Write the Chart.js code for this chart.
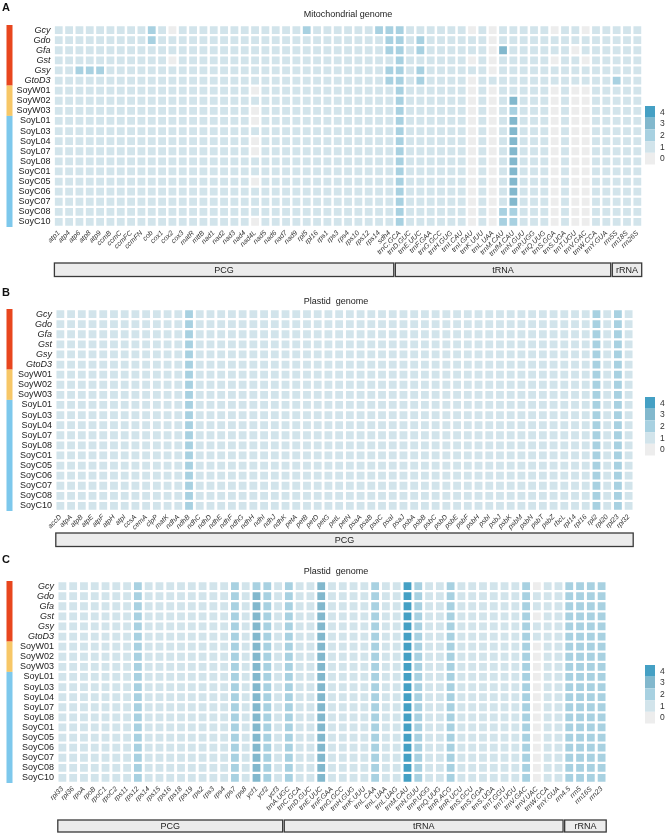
<!DOCTYPE html>
<html>
<head>
<meta charset="utf-8">
<script src="https://cdn.jsdelivr.net/npm/chart.js@4.4.0/dist/chart.umd.min.js"></script>
<style>
  html, body { margin: 0; padding: 0; background: #fff; }
  #wrap { position: relative; width: 669px; height: 833px; overflow: hidden; }
  canvas { position: absolute; left: 0; }
</style>
</head>
<body>
<div id="wrap">
  <canvas id="panelA" width="669" height="285" style="top:0px"></canvas>
  <canvas id="panelB" width="669" height="265" style="top:285px"></canvas>
  <canvas id="panelC" width="669" height="283" style="top:550px"></canvas>
</div>
<script>
// ---- data ----
var SAMPLES = ['Gcy', 'Gdo', 'Gfa', 'Gst', 'Gsy', 'GtoD3', 'SoyW01', 'SoyW02', 'SoyW03',
  'SoyL01', 'SoyL03', 'SoyL04', 'SoyL07', 'SoyL08', 'SoyC01', 'SoyC05', 'SoyC06',
  'SoyC07', 'SoyC08', 'SoyC10'];
var WILD_COUNT = 6;        // italic, red strip
var LANDRACE_START = 9;    // SoyW.. yellow strip from 6 to 8

var LEVELS = [0, 1, 2, 3, 4];
var LEVEL_COLORS = ['#ededed', '#d2e4eb', '#a8d1e1', '#82b8cd', '#45a0c4'];

var MITO_PCG = ['atp1', 'atp4', 'atp6', 'atp8', 'atp9', 'ccmB', 'ccmC', 'ccmFC', 'ccmFN', 'cob',
  'cox1', 'cox2', 'cox3', 'matR', 'mttB', 'nad1', 'nad2', 'nad3', 'nad4', 'nad4L', 'nad5',
  'nad6', 'nad7', 'nad9', 'rpl5', 'rpl16', 'rps1', 'rps3', 'rps4', 'rps10', 'rps12', 'rps14', 'sdh4'];
var MITO_TRNA = ['trnC.GCA', 'trnD.GUC', 'trnE.UUC', 'trnF.GAA', 'trnG.GCC', 'trnH.GUG',
  'trnI.CAU', 'trnI.GAU', 'trnK.UUU', 'trnL.UAA', 'trnM.CAU', 'trnfM.CAU', 'trnN.GUU',
  'trnP.UGG', 'trnQ.UUG', 'trnS.GGA', 'trnS.UGA', 'trnT.UGU', 'trnV.GAC', 'trnW.CCA', 'trnY.GUA'];
var MITO_RRNA = ['rrn5S', 'rrn18S', 'rrn26S'];

// one string per sample, PCG | tRNA | rRNA
var MITO_VALUES = [
  '111111111210111111111111211111122|211111101011111011011|111',
  '111111111211111111111111111111112|212111111011111111111|111',
  '111111111111111111111111111111112|212111111031111110111|111',
  '111111111110111111111111111111111|211111101011111011011|111',
  '112221111111111111111111111111112|212111111011111111111|111',
  '111111111111111111111111111111112|212111101111111111111|211',
  '111111111111111111101111111111111|211111101011111010011|111',
  '111111111111111111111111111111111|211111101013111010011|111',
  '111111111111111111101111111111111|211111101012111010011|111',
  '111111111111111111101111111111111|211111101013111010011|111',
  '111111111111111111111111111111111|211111101013111010011|111',
  '111111111111111111101111111111111|211111101013111010011|111',
  '111111111111111111101111111111111|211111101013111010011|111',
  '111111111111111111111111111111111|211111101013111010011|111',
  '111111111111111111111111111111111|211111101013111010011|111',
  '111111111111111111101111111111111|211111101013111010011|111',
  '111111111111111111111111111111111|211111101013111010011|111',
  '111111111111111111111111111111111|211111101013111010011|111',
  '111111111111111111111111111111111|211111101022111010011|111',
  '111111111111111111101111111111111|211111101022111010011|111'
];

var PLASTID_PCG_B = ['accD', 'atpA', 'atpB', 'atpE', 'atpF', 'atpH', 'atpI', 'ccsA', 'cemA',
  'clpP', 'matK', 'ndhA', 'ndhB', 'ndhC', 'ndhD', 'ndhE', 'ndhF', 'ndhG', 'ndhH', 'ndhI',
  'ndhJ', 'ndhK', 'petA', 'petB', 'petD', 'petG', 'petL', 'petN', 'psaA', 'psaB', 'psaC',
  'psaI', 'psaJ', 'psbA', 'psbB', 'psbC', 'psbD', 'psbE', 'psbF', 'psbH', 'psbI', 'psbJ',
  'psbK', 'psbM', 'psbN', 'psbT', 'psbZ', 'rbcL', 'rpl14', 'rpl16', 'rpl2', 'rpl20',
  'rpl23', 'rpl32'];
// identical for all 20 samples
var PLASTID_B_ROW = '111111111111211111111111111111111111111111111111112121';
var PLASTID_B_VALUES = SAMPLES.map(function () { return PLASTID_B_ROW; });

var PLASTID_PCG_C = ['rpl33', 'rpl36', 'rpoA', 'rpoB', 'rpoC1', 'rpoC2', 'rps11', 'rps12',
  'rps14', 'rps15', 'rps16', 'rps18', 'rps19', 'rps2', 'rps3', 'rps4', 'rps7', 'rps8',
  'ycf1', 'ycf2', 'ycf3'];
var PLASTID_TRNA_C = ['trnA.UGC', 'trnC.GCA', 'trnD.GUC', 'trnE.UUC', 'trnF.GAA', 'trnG.GCC',
  'trnH.GUG', 'trnK.UUU', 'trnL.CAA', 'trnL.UAA', 'trnL.UAG', 'trnM.CAU', 'trnN.GUU',
  'trnP.UGG', 'trnQ.UUG', 'trnR.ACG', 'trnR.UCU', 'trnS.GCU', 'trnS.GGA', 'trnS.UGA',
  'trnT.GGU', 'trnT.UGU', 'trnV.GAC', 'trnV.UAC', 'trnW.CCA', 'trnY.GUA'];
var PLASTID_RRNA_C = ['rrn4.5', 'rrn5', 'rrn16S', 'rrn23'];

var PLASTID_C_VALUES = [
  '111111121111111121221|21131111211421121111112011|2222',
  '111111121111111121321|21131111211421121111112111|2222',
  '111111121111111121321|21131111211421121111112111|2222',
  '111111121111111121321|21131111211421121111112011|2222',
  '111111121111111121321|21131111211421121111112111|2222',
  '111111121111111121321|21131111211421121111112111|2222',
  '111111121111111121321|21131111211421121111112011|2222',
  '111111121111111121321|21131111211421121111112011|2222',
  '111111121111111121321|21131111211421121111112011|2222',
  '111111121111111121321|21131111211421121111112011|2222',
  '111111121111111121321|21131111211421121111112011|2222',
  '111111121111111121321|21131111211421121111112011|2222',
  '111111121111111121321|21131111211421121111112011|2222',
  '111111121111111121321|21131111211421121111112011|2222',
  '111111121111111121321|21131111211421121111112011|2222',
  '111111121111111121321|21131111211421121111112011|2222',
  '111111121111111121321|21131111211421121111112011|2222',
  '111111121111111121321|21131111211421121111112011|2222',
  '111111121111111121321|21131111211421121111112011|2222',
  '111111121111111121321|21131111211421121111112011|2222'
];

// ---- helpers ----
function toPoints(genes, rows) {
  var pts = [];
  rows.forEach(function (row, r) {
    var digits = row.replace(/\|/g, '');
    for (var c = 0; c < genes.length; c++) {
      pts.push({ x: genes[c], y: SAMPLES[r], v: +digits.charAt(c) });
    }
  });
  return pts;
}

var FONT = 'Liberation Sans, Arial, sans-serif';

var decorPlugin = {
  id: 'decor',
  afterDraw: function (chart) {
    var o = chart.options.plugins.decor;
    var ctx = chart.ctx, xs = chart.scales.x, ys = chart.scales.y;
    var px = Math.abs(xs.getPixelForValue(1) - xs.getPixelForValue(0));
    var py = Math.abs(ys.getPixelForValue(1) - ys.getPixelForValue(0));
    ctx.save();
    // panel letter + title
    ctx.fillStyle = '#111';
    ctx.font = 'bold 11px ' + FONT;
    ctx.textBaseline = 'middle';
    ctx.textAlign = 'left';
    ctx.fillText(o.letter, 2, o.letterY);
    ctx.font = '9px ' + FONT;
    ctx.textAlign = 'center';
    ctx.fillStyle = '#222';
    ctx.fillText(o.title, o.titleX, o.titleY);

    // group colour strip
    var strips = [[0, WILD_COUNT - 1, '#e8461e'], [WILD_COUNT, LANDRACE_START - 1, '#f7c767'],
      [LANDRACE_START, SAMPLES.length - 1, '#7dc8ec']];
    strips.forEach(function (s) {
      var y0 = ys.getPixelForValue(s[0]) - py / 2;
      var y1 = ys.getPixelForValue(s[1]) + py / 2;
      ctx.fillStyle = s[2];
      ctx.fillRect(6.5, y0, 6, y1 - y0);
    });

    // gene class boxes
    var start = 0;
    o.groups.forEach(function (g) {
      var x0 = xs.getPixelForValue(start) - px / 2 + 0.8;
      var x1 = xs.getPixelForValue(start + g.n - 1) + px / 2 - 0.8;
      ctx.fillStyle = '#ececec';
      ctx.fillRect(x0, o.boxTop, x1 - x0, o.boxH);
      ctx.strokeStyle = '#3a3a3a';
      ctx.lineWidth = 1.3;
      ctx.strokeRect(x0, o.boxTop, x1 - x0, o.boxH);
      ctx.fillStyle = '#222';
      ctx.font = '9px ' + FONT;
      ctx.textAlign = 'center';
      ctx.fillText(g.name, (x0 + x1) / 2, o.boxTop + o.boxH / 2 + 0.5);
      start += g.n;
    });

    // colour key
    var bh = 11.7;
    for (var i = 0; i < LEVELS.length; i++) {
      var lv = LEVELS[LEVELS.length - 1 - i];
      var y = o.legendTop + i * bh;
      ctx.fillStyle = LEVEL_COLORS[lv];
      ctx.fillRect(645, y, 10, bh);
      ctx.fillStyle = '#333';
      ctx.font = '8.5px ' + FONT;
      ctx.textAlign = 'left';
      ctx.fillText(String(lv), 660, y + bh / 2 + 0.5);
    }
    ctx.restore();
  }
};

function makePanel(id, genes, rows, o) {
  var canvas = document.getElementById(id);
  var H = canvas.height;
  return new Chart(canvas, {
    type: 'scatter',
    data: {
      datasets: [{
        data: toPoints(genes, rows),
        pointStyle: 'rect',
        pointBackgroundColor: function (c) { return LEVEL_COLORS[c.raw ? c.raw.v : 1]; },
        pointBorderWidth: 0,
        pointRadius: function (c) {
          var xs = c.chart.scales.x, ys = c.chart.scales.y;
          var px = Math.abs(xs.getPixelForValue(1) - xs.getPixelForValue(0));
          var py = Math.abs(ys.getPixelForValue(1) - ys.getPixelForValue(0));
          var side = Math.min(px, py) - 2.3;
          return side / (2 * Math.SQRT1_2);
        },
        pointHoverRadius: 0
      }]
    },
    options: {
      responsive: false,
      animation: false,
      events: [],
      layout: { padding: { left: 0, top: o.top, right: 669 - o.right, bottom: H - o.bottom - o.xAxisH } },
      plugins: {
        legend: { display: false },
        tooltip: { enabled: false },
        decor: o
      },
      scales: {
        x: {
          type: 'category',
          labels: genes,
          offset: true,
          grid: { display: false, drawTicks: false },
          border: { display: false },
          afterFit: function (s) { s.height = o.xAxisH; },
          ticks: {
            autoSkip: false,
            minRotation: 45,
            maxRotation: 45,
            padding: 2,
            color: '#333',
            font: { family: FONT, size: 7, style: 'italic' }
          }
        },
        y: {
          type: 'category',
          labels: SAMPLES,
          offset: true,
          grid: { display: false, drawTicks: false },
          border: { display: false },
          afterFit: function (s) { s.width = o.left; },
          ticks: {
            autoSkip: false,
            padding: 3,
            color: '#222',
            font: function (c) {
              return { family: FONT, size: 9, style: c.index < WILD_COUNT ? 'italic' : 'normal' };
            }
          }
        }
      }
    },
    plugins: [decorPlugin]
  });
}

makePanel('panelA', MITO_PCG.concat(MITO_TRNA, MITO_RRNA), MITO_VALUES, {
  left: 53.6, right: 642.5, top: 25, bottom: 227, xAxisH: 34,
  letter: 'A', letterY: 8, title: 'Mitochondrial genome', titleX: 348, titleY: 15,
  boxTop: 263, boxH: 13.5, legendTop: 106,
  groups: [{ name: 'PCG', n: MITO_PCG.length }, { name: 'tRNA', n: MITO_TRNA.length },
    { name: 'rRNA', n: MITO_RRNA.length }]
});

makePanel('panelB', PLASTID_PCG_B, PLASTID_B_VALUES, {
  left: 55, right: 634, top: 24, bottom: 226, xAxisH: 22,
  letter: 'B', letterY: 8, title: 'Plastid  genome', titleX: 336, titleY: 17,
  boxTop: 248, boxH: 13.5, legendTop: 112,
  groups: [{ name: 'PCG', n: PLASTID_PCG_B.length }]
});

makePanel('panelC', PLASTID_PCG_C.concat(PLASTID_TRNA_C, PLASTID_RRNA_C), PLASTID_C_VALUES, {
  left: 57, right: 607, top: 31, bottom: 233, xAxisH: 36,
  letter: 'C', letterY: 10, title: 'Plastid  genome', titleX: 336, titleY: 22,
  boxTop: 270, boxH: 12, legendTop: 115,
  groups: [{ name: 'PCG', n: PLASTID_PCG_C.length }, { name: 'tRNA', n: PLASTID_TRNA_C.length },
    { name: 'rRNA', n: PLASTID_RRNA_C.length }]
});
</script>
</body>
</html>
